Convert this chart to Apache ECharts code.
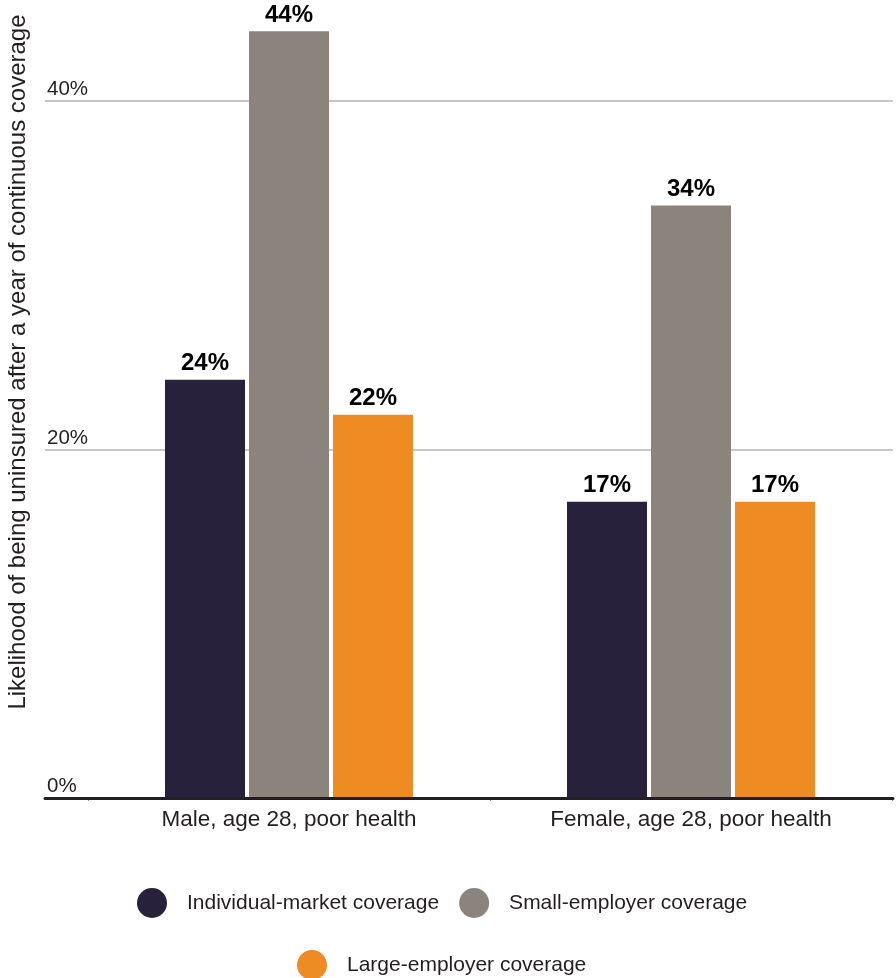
<!DOCTYPE html>
<html>
<head>
<meta charset="utf-8">
<script src="https://cdn.jsdelivr.net/npm/echarts@6/dist/echarts.min.js"></script>
<style>
html,body{margin:0;padding:0;background:#fff;}
#chart{width:896px;height:978px;}
</style>
</head>
<body>
<div id="chart"></div>
<script>
const categories = ['Male, age 28, poor health', 'Female, age 28, poor health'];
const seriesNames = ['Individual-market coverage', 'Small-employer coverage', 'Large-employer coverage'];
const individualMarket = [24, 17];
const smallEmployer = [44, 34];
const largeEmployer = [22, 17];
const yAxisTitle = 'Likelihood of being uninsured after a year of continuous coverage';
const colors = ['#27213b', '#8b847d', '#ee8b23'];

const chart = echarts.init(document.getElementById('chart'), null, {renderer: 'canvas'});

const gridTop = 0, gridBottom = 180, yMax = 45.8;
const barLabel = {
  show: true, position: 'top', distance: 4,
  formatter: '{c}%',
  fontFamily: 'Liberation Sans, Arial, sans-serif',
  fontWeight: 'bold', fontSize: 24, color: '#000'
};

function bar(name, data, color) {
  return {
    name: name, type: 'bar', data: data,
    xAxisIndex: 1, yAxisIndex: 1,
    barWidth: 80, barGap: '5%',
    itemStyle: {color: color},
    label: barLabel
  };
}

const legendText = {
  fontFamily: 'Liberation Sans, Arial, sans-serif',
  fontSize: 21, color: '#231f20', padding: [0, 0, 0, 15]
};

chart.setOption({
  animation: false,
  color: colors,
  grid: [
    {left: 45, right: 3, top: gridTop, bottom: gridBottom},
    {left: 88, right: 4, top: gridTop, bottom: gridBottom}
  ],
  xAxis: [
    {
      gridIndex: 0, type: 'value', min: 0, max: 1, z: 5,
      axisLine: {show: true, lineStyle: {color: '#231f20', width: 3}},
      axisTick: {show: false}, axisLabel: {show: false}, splitLine: {show: false}
    },
    {
      gridIndex: 1, type: 'category', data: categories,
      axisLine: {show: false},
      axisTick: {show: true, length: 3, lineStyle: {color: '#888', width: 1}},
      axisLabel: {
        margin: 10, fontSize: 22.5, color: '#231f20',
        fontFamily: 'Liberation Sans, Arial, sans-serif'
      }
    }
  ],
  yAxis: [
    {
      gridIndex: 0, type: 'value', min: 0, max: yMax, interval: 20,
      axisLine: {show: false}, axisTick: {show: false},
      splitLine: {show: true, showMaxLine: false, lineStyle: {color: '#c6c6c6', width: 2}},
      axisLabel: {
        inside: true, margin: 2, showMaxLabel: false,
        verticalAlign: 'bottom', padding: [0, 0, 1, 0],
        formatter: '{value}%', fontSize: 20.5, color: '#231f20',
        fontFamily: 'Liberation Sans, Arial, sans-serif'
      }
    },
    {
      gridIndex: 1, type: 'value', min: 0, max: yMax, interval: 20, show: false,
      splitLine: {show: false}
    }
  ],
  legend: [
    {
      data: seriesNames.slice(0, 2), left: 137, top: 888, padding: 0,
      icon: 'circle', itemWidth: 30, itemHeight: 30, itemGap: 20,
      textStyle: legendText
    },
    {
      data: seriesNames.slice(2), left: 297, top: 950, padding: 0,
      icon: 'circle', itemWidth: 30, itemHeight: 30, itemGap: 20,
      textStyle: legendText
    }
  ],
  graphic: [{
    type: 'text', x: 18, y: 362, rotation: Math.PI / 2,
    style: {
      text: yAxisTitle, fill: '#231f20', fontSize: 24,
      fontFamily: 'Liberation Sans, Arial, sans-serif',
      align: 'center', verticalAlign: 'middle'
    }
  }],
  series: [
    bar(seriesNames[0], individualMarket, colors[0]),
    bar(seriesNames[1], smallEmployer, colors[1]),
    bar(seriesNames[2], largeEmployer, colors[2])
  ]
});
</script>
</body>
</html>
